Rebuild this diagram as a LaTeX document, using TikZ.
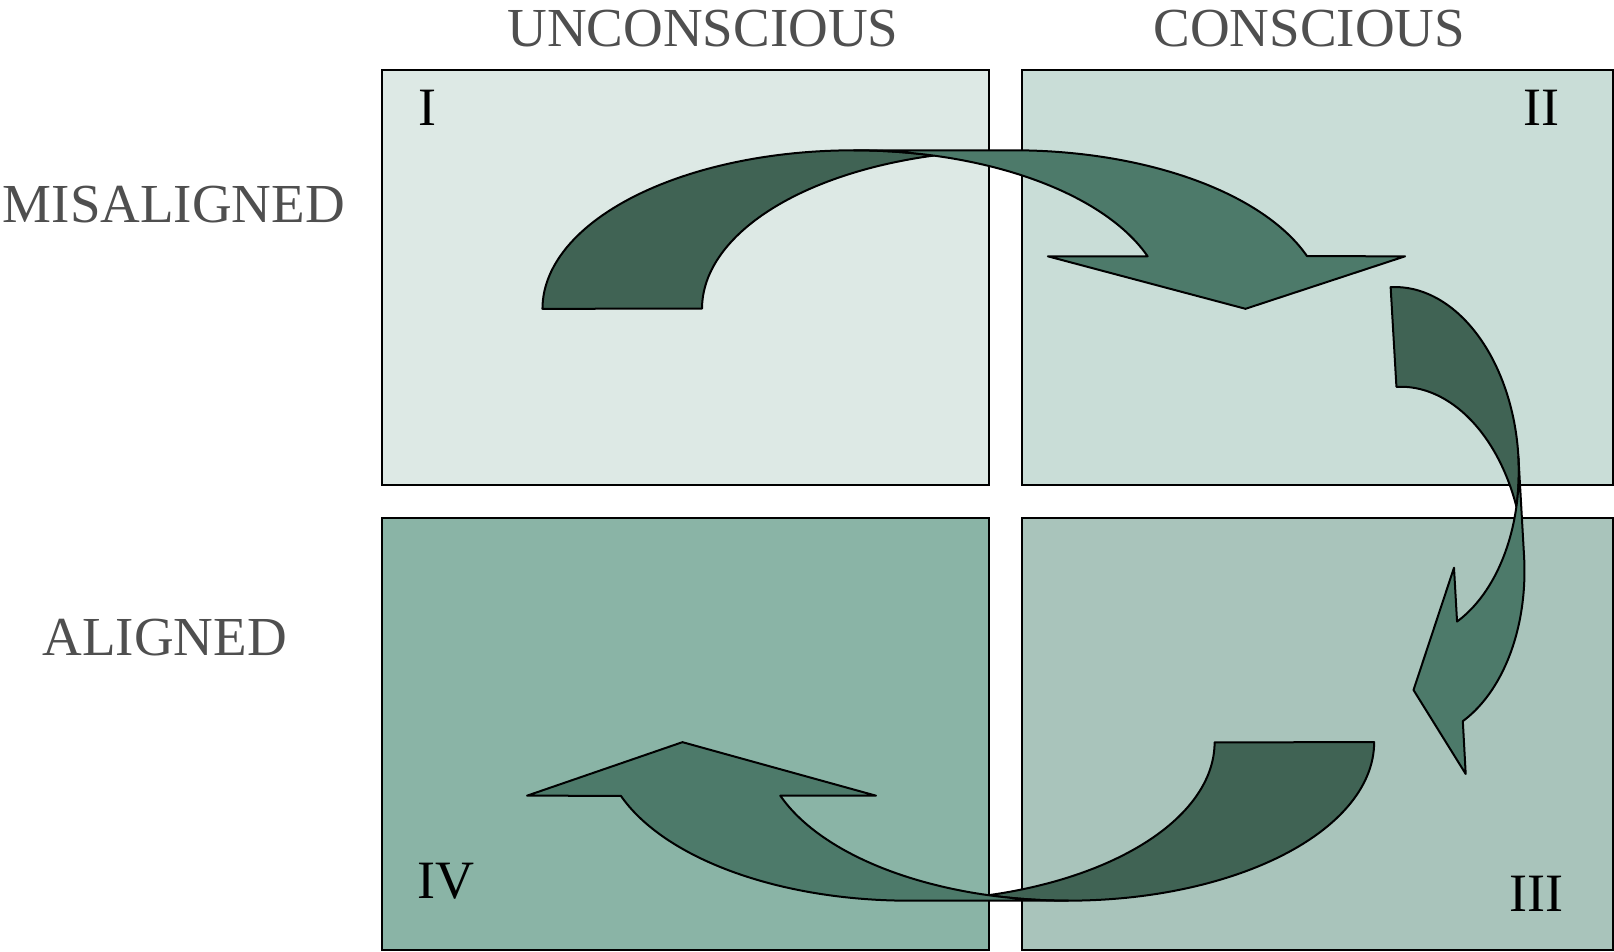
\documentclass[tikz,border=0pt]{standalone}
\usepackage{fontspec}
\setmainfont{Liberation Serif}
\definecolor{boxI}{HTML}{DDE9E5}
\definecolor{boxII}{HTML}{C9DDD7}
\definecolor{boxIII}{HTML}{A9C4BB}
\definecolor{boxIV}{HTML}{8AB4A6}
\definecolor{arrback}{HTML}{406354}
\definecolor{arrfront}{HTML}{4D7A6A}
\definecolor{lblgray}{HTML}{4F4F4F}
\tikzset{
  quad/.style={draw=black, line width=2pt},
  backface/.style={fill=arrback, draw=black, line width=2pt, line join=round},
  frontface/.style={fill=arrfront, draw=black, line width=2pt, line join=round},
  axislbl/.style={text=lblgray, font=\fontsize{55}{60}\selectfont, inner sep=0pt},
  numlbl/.style={text=black, font=\fontsize{54}{60}\selectfont, inner sep=0pt},
  arc samples/.style={samples=70, domain=0:1, variable=\s}
}
\begin{document}
\begin{tikzpicture}[x=1.0293pt, y=-1.0293pt]
\useasboundingbox (0,0) rectangle (1568,924);
% quadrants
\path[quad, fill=boxI]   (371,68)  rectangle (961,471);
\path[quad, fill=boxII]  (993,68)  rectangle (1567,471);
\path[quad, fill=boxIV]  (371,503) rectangle (961,923);
\path[quad, fill=boxIII] (993,503) rectangle (1567,923);
% labels
\node[axislbl] (unc) at (683,28) {UNCONSCIOUS};
\node[axislbl] (con) at (1272,28) {CONSCIOUS};
\node[axislbl] (mis) at (169,199) {MISALIGNED};
\node[axislbl] (ali) at (160,619) {ALIGNED};
\node[numlbl] (nI) at (415,105) {I};
\node[numlbl] (nII) at (1498,105) {II};
\node[numlbl] (nIV) at (433,856) {IV};
\node[numlbl] (nIII) at (1493,868) {III};
% top arrow (I -> II)
\path[backface]
  plot[arc samples] ({829.5+302.5*cos(180+104.85*\s)},{300+154*sin(180+104.85*\s)})
  -- plot[arc samples] ({984.5+302.5*cos(255.15-75.15*\s)},{300+154*sin(255.15-75.15*\s)})
  -- cycle;
\path[frontface]
  (829.5,146) -- (984.5,146)
  -- plot[arc samples] ({984.5+302.5*cos(270+70.66*\s)},{300+154*sin(270+70.66*\s)})
  -- (1365,249) -- (1210,300) -- (1018,249)
  -- plot[arc samples] ({829.5+302.5*cos(340.66-70.66*\s)},{300+154*sin(340.66-70.66*\s)})
  -- cycle;
% right arrow (II -> III)
\begin{scope}[shift={(1351,279)}, rotate=3.25]
\path[backface]
  plot[arc samples] ({114.6*cos(270+106.46*\s)},{171.2+171.2*sin(270+106.46*\s)})
  -- plot[arc samples] ({114.6*cos(343.54-73.54*\s)},{268.2+171.2*sin(343.54-73.54*\s)})
  -- cycle;
\path[frontface]
  (114.6,171.2) -- (114.6,268.2)
  -- plot[arc samples] ({114.6*cos(66.33*\s)},{268.2+171.2*sin(66.33*\s)})
  -- (46,476.3) -- (0,392) -- (46,275.6)
  -- plot[arc samples] ({114.6*cos(66.33-66.33*\s)},{171.2+171.2*sin(66.33-66.33*\s)})
  -- cycle;
\end{scope}
% bottom arrow (III -> IV)
\path[backface]
  plot[arc samples] ({1037.8+297.2*cos(105.1*\s)},{721+154*sin(105.1*\s)})
  -- plot[arc samples] ({882.8+297.2*cos(74.9-74.9*\s)},{721+154*sin(74.9-74.9*\s)})
  -- cycle;
\path[frontface]
  (1037.8,875) -- (882.8,875)
  -- plot[arc samples] ({882.8+297.2*cos(90+70.27*\s)},{721+154*sin(90+70.27*\s)})
  -- (512,773) -- (663,721) -- (851,773)
  -- plot[arc samples] ({1037.8+297.2*cos(160.27-70.27*\s)},{721+154*sin(160.27-70.27*\s)})
  -- cycle;
\end{tikzpicture}
\end{document}
